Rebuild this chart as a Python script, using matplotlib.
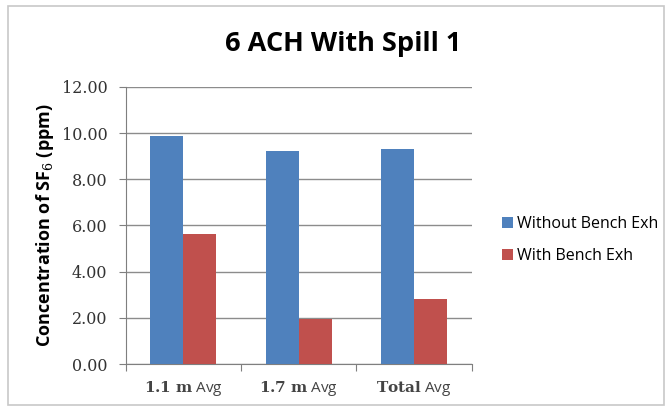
import matplotlib.pyplot as plt
import numpy as np
from matplotlib.patches import Rectangle

categories = ['1.1 m', '1.7 m', 'Total']
without_bench = [9.87, 9.21, 9.33]
with_bench = [5.61, 1.96, 2.81]
y_ticks = [0, 2, 4, 6, 8, 10, 12]

plt.rcParams['mathtext.fontset'] = 'custom'
plt.rcParams['mathtext.bf'] = 'DejaVu Serif:bold'
plt.rcParams['mathtext.rm'] = 'DejaVu Serif'

fig = plt.figure(figsize=(6.68, 4.12), dpi=100)
ax = fig.add_axes([0.188, 0.1165, 0.518, 0.6725])

# outer chart border
fig.patches.append(Rectangle((0.012, 0.017), 0.982, 0.968, transform=fig.transFigure,
                             fill=False, edgecolor='#c8c8c8', linewidth=1.2))

x = np.arange(len(categories))
w = 1 / 3.5
ax.bar(x - w / 2, without_bench, w, color='#4f81bd', label='Without Bench Exh', zorder=3)
ax.bar(x + w / 2, with_bench, w, color='#c0504d', label='With Bench Exh', zorder=3)

ax.set_xlim(-0.5, len(categories) - 0.5)
ax.set_ylim(0, 12)
ax.set_yticks(y_ticks)
ax.set_yticklabels([f'{v:.2f}' for v in y_ticks], fontfamily='DejaVu Serif',
                   fontsize=11.5, color='#333333')
ax.yaxis.grid(True, color='#8c8c8c', linewidth=1, zorder=0)

ax.set_xticks(np.arange(len(categories) + 1) - 0.5)
ax.set_xticklabels([])
ax.tick_params(axis='x', length=5, color='#7f7f7f', direction='out')
ax.tick_params(axis='y', length=5, color='#7f7f7f', direction='out', pad=8)
for i, c in enumerate(categories):
    ax.text(i, -1.04, r'$\mathbf{' + c.replace(' ', r'\ ') + r'}$' + ' Avg',
            ha='center', va='center', fontsize=11, fontfamily='Open Sans',
            color='#444444')

for s in ['top', 'right']:
    ax.spines[s].set_visible(False)
ax.spines['left'].set_color('#7f7f7f')
ax.spines['bottom'].set_color('#7f7f7f')

ax.set_ylabel(r'Concentration of SF$_6$ (ppm)', fontsize=13, fontweight='bold',
              fontfamily='Open Sans', labelpad=4)
fig.text(0.514, 0.893, '6 ACH With Spill 1', ha='center', va='center',
         fontsize=19.5, fontfamily='Open Sans', fontweight='bold')

fig.legend(loc='center left', bbox_to_anchor=(0.7515, 0.417), frameon=False,
           borderaxespad=0, borderpad=0, handlelength=0.7, handleheight=0.7,
           handletextpad=0.25, labelspacing=1.0,
           prop={'family': 'Open Sans', 'size': 11.5})

fig.savefig('out.png', dpi=100)
